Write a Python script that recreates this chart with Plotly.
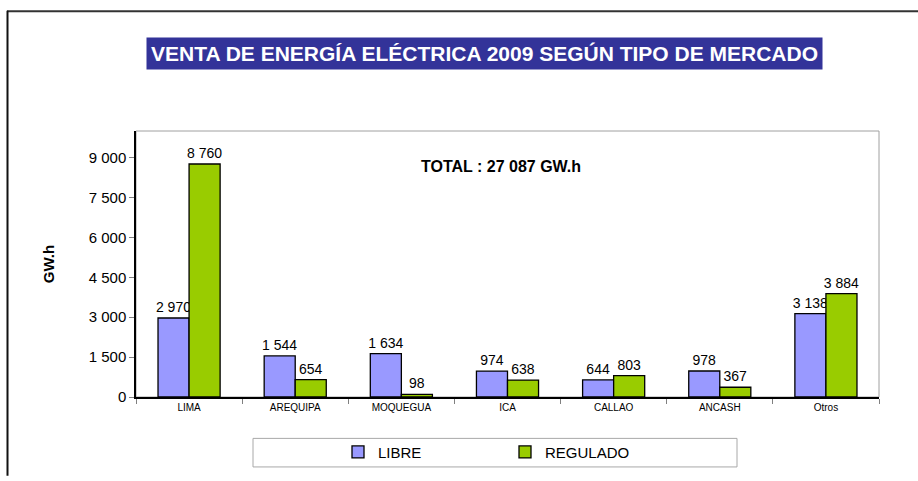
import plotly.graph_objects as go

categories = ["LIMA", "AREQUIPA", "MOQUEGUA", "ICA", "CALLAO", "ANCASH", "Otros"]
libre = [2970, 1544, 1634, 974, 644, 978, 3138]
regulado = [8760, 654, 98, 638, 803, 367, 3884]
y_ticks = [0, 1500, 3000, 4500, 6000, 7500, 9000]

FONT = "Liberation Sans, Arial, sans-serif"
W, H = 918, 481
L, R, T, B = 136, 39, 131, 80
PW, PH = W - L - R, H - T - B


def px(x):
    return (x - L) / PW


def py(y):
    return (H - B - y) / PH


fig = go.Figure()
fig.add_trace(go.Bar(
    x=categories, y=libre, name="LIBRE",
    marker=dict(color="#9999FF", line=dict(color="#000000", width=1.3)),
    texttemplate="%{y:,}", textposition="outside", constraintext="none",
    textfont=dict(family=FONT, size=14, color="#000"), cliponaxis=False,
))
fig.add_trace(go.Bar(
    x=categories, y=regulado, name="REGULADO",
    marker=dict(color="#99CC00", line=dict(color="#000000", width=1.3)),
    texttemplate="%{y:,}", textposition="outside", constraintext="none",
    textfont=dict(family=FONT, size=14, color="#000"), cliponaxis=False,
))

shapes = [
    dict(type="rect", xref="paper", yref="paper", x0=0, x1=1, y0=0, y1=1,
         line=dict(color="#A0A0A0", width=1), layer="below"),
    dict(type="line", xref="paper", yref="paper", x0=px(7), x1=px(918), y0=py(9.5), y1=py(9.5),
         line=dict(color="#333333", width=2)),
    dict(type="line", xref="paper", yref="paper", x0=px(7.5), x1=px(7.5), y0=py(9), y1=py(481),
         line=dict(color="#111111", width=2)),
    dict(type="rect", xref="paper", yref="paper", x0=px(253), x1=px(737), y0=py(443), y1=py(472),
         line=dict(color="#A8A8A8", width=1)),
]

annotations = [
    dict(text="<b>VENTA DE ENERGÍA ELÉCTRICA 2009 SEGÚN TIPO DE MERCADO</b>",
         xref="paper", yref="paper", x=px(484), y=py(52.5), xanchor="center", yanchor="middle",
         showarrow=False, font=dict(family=FONT, size=21, color="white"),
         bgcolor="#333399", borderpad=4),
    dict(text="<b>TOTAL : 27 087 GW.h</b>", xref="paper", yref="paper",
         x=px(501), y=py(167), xanchor="center", yanchor="middle", showarrow=False,
         font=dict(family=FONT, size=16, color="#000")),
]

fig.update_layout(
    width=W, height=H,
    margin=dict(l=L, r=R, t=T, b=B),
    paper_bgcolor="white", plot_bgcolor="white",
    separators=", ",
    barmode="group", bargap=0.415, bargroupgap=0,
    font=dict(family=FONT, color="#000"),
    shapes=shapes, annotations=annotations,
    showlegend=True,
    legend=dict(orientation="h", x=px(338), y=py(457), xanchor="left", yanchor="middle",
                font=dict(family=FONT, size=15, color="#000"), entrywidth=122,
                itemwidth=30, bgcolor="rgba(0,0,0,0)", traceorder="normal"),
    xaxis=dict(showline=True, linecolor="#000", linewidth=1.5, ticks="outside",
               tickson="boundaries", ticklen=5, tickcolor="#808080",
               tickfont=dict(family=FONT, size=10, color="#000"), showgrid=False),
    yaxis=dict(range=[0, 10000], tickvals=y_ticks, tickformat=",d", showline=True,
               linecolor="#000", linewidth=1.5, ticks="outside", ticklen=5, tickcolor="#808080",
               tickfont=dict(family=FONT, size=15, color="#000"), showgrid=False, zeroline=False,
               title=dict(text="<b>GW.h</b>", font=dict(family=FONT, size=15, color="#000"),
                          standoff=30)),
)

fig.write_html("out.html", config={"displayModeBar": False},
               post_script="document.body.style.margin='0';")
